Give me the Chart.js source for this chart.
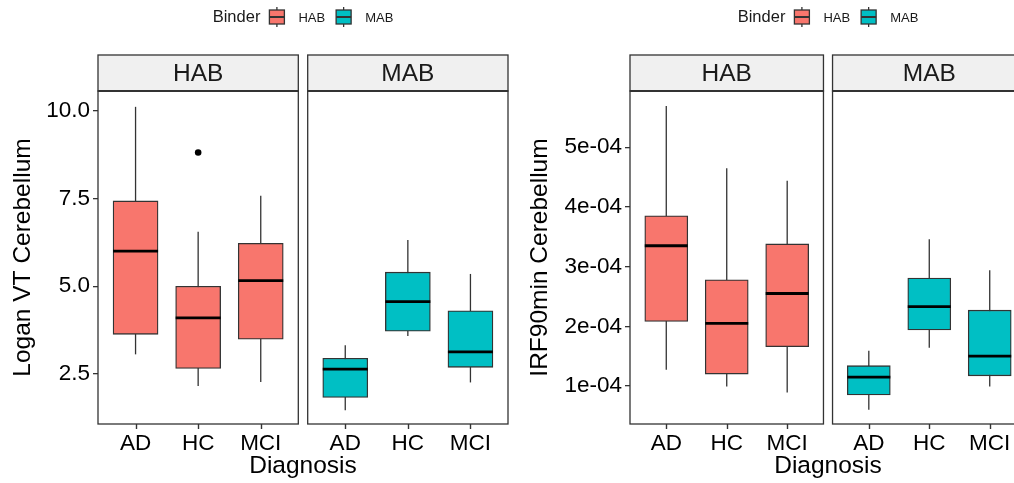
<!DOCTYPE html>
<html>
<head>
<meta charset="utf-8">
<script src="https://cdn.jsdelivr.net/npm/chart.js@4.4.1/dist/chart.umd.min.js"></script>
<style>
  html, body { margin: 0; padding: 0; background: #fff; overflow: hidden; }
  #wrap { position: relative; width: 1014px; height: 483px; overflow: hidden; }
  canvas { position: absolute; top: 0; }
  #logan { left: 0; }
  #irf { left: 512px; }
</style>
</head>
<body>
<div id="wrap">
  <canvas id="logan" width="512" height="483"></canvas>
  <canvas id="irf" width="516" height="483"></canvas>
</div>
<script>
/* Boxplots of cerebellum uptake by diagnosis, faceted by binder status */

const diagnoses = ['AD', 'HC', 'MCI'];
const binders = ['HAB', 'MAB'];
const binderColors = ['#F8766D', '#00BFC4'];

// Logan VT, cerebellum (whisker ends, hinges, median; order AD, HC, MCI)
const loganHabMin    = [3.06, 2.16, 2.27];
const loganHabQ1     = [3.63, 2.66, 3.49];
const loganHabMedian = [6.00, 4.10, 5.16];
const loganHabQ3     = [7.43, 5.00, 6.22];
const loganHabMax    = [10.11, 6.55, 7.58];
const loganMabMin    = [1.47, 3.58, 2.26];
const loganMabQ1     = [1.83, 3.72, 2.69];
const loganMabMedian = [2.64, 4.56, 3.13];
const loganMabQ3     = [2.95, 5.40, 4.30];
const loganMabMax    = [3.32, 6.32, 5.35];
const loganOutlierBinder    = ['HAB'];
const loganOutlierDiagnosis = ['HC'];
const loganOutlierValue     = [8.81];
const loganTicks      = [2.5, 5.0, 7.5, 10.0];
const loganTickLabels = ['2.5', '5.0', '7.5', '10.0'];

// IRF at 90 min, cerebellum
const irfHabMin    = [1.27e-4, 0.99e-4, 0.89e-4];
const irfHabQ1     = [2.08e-4, 1.20e-4, 1.66e-4];
const irfHabMedian = [3.35e-4, 2.05e-4, 2.55e-4];
const irfHabQ3     = [3.85e-4, 2.78e-4, 3.38e-4];
const irfHabMax    = [5.69e-4, 4.65e-4, 4.44e-4];
const irfMabMin    = [0.60e-4, 1.64e-4, 0.99e-4];
const irfMabQ1     = [0.85e-4, 1.94e-4, 1.17e-4];
const irfMabMedian = [1.15e-4, 2.33e-4, 1.50e-4];
const irfMabQ3     = [1.34e-4, 2.81e-4, 2.27e-4];
const irfMabMax    = [1.59e-4, 3.46e-4, 2.94e-4];
const irfOutlierBinder    = [];
const irfOutlierDiagnosis = [];
const irfOutlierValue     = [];
const irfTicks      = [1e-4, 2e-4, 3e-4, 4e-4, 5e-4];
const irfTickLabels = ['1e-04', '2e-04', '3e-04', '4e-04', '5e-04'];

const FONT = "'Liberation Sans', Arial, sans-serif";
Chart.defaults.font.family = FONT;
Chart.defaults.color = '#000';

const PANEL_SPAN = 3.2;   // three categories plus 0.6 padding each side
const PANEL_GAP = 0.15;   // gap between the two facets, x units
const STRIP_H = 36;
const TICK_LEN = 5;
const LINE = '#333333';

const xPos = (b, d) => d + 1 + b * (PANEL_SPAN + PANEL_GAP);

function collectBoxes(stats) {
  const out = [];
  stats.forEach((s, b) => {
    diagnoses.forEach((d, i) => {
      out.push({ x: xPos(b, i), min: s.min[i], q1: s.q1[i], median: s.median[i], q3: s.q3[i], max: s.max[i], color: binderColors[b] });
    });
  });
  return out;
}

function collectOutliers(binderArr, diagArr, valueArr) {
  return valueArr.map((v, i) => ({ x: xPos(binders.indexOf(binderArr[i]), diagnoses.indexOf(diagArr[i])), y: v }));
}

function facetPlugin(boxes, tickPositions) {
  return {
    id: 'facets',
    beforeDatasetsDraw(chart) {
      const { ctx, scales: { x, y } } = chart;
      ctx.save();
      ctx.strokeStyle = LINE;
      ctx.lineWidth = 1.3;
      boxes.forEach(b => {
        const px = x.getPixelForValue(b.x);
        ctx.beginPath();
        ctx.moveTo(px, y.getPixelForValue(b.min));
        ctx.lineTo(px, y.getPixelForValue(b.max));
        ctx.stroke();
      });
      ctx.restore();
    },
    afterDatasetsDraw(chart) {
      const { ctx, chartArea: area, scales: { x, y } } = chart;
      const bars = chart.getDatasetMeta(0).data;
      ctx.save();
      // medians
      ctx.strokeStyle = '#000';
      ctx.lineWidth = 2.8;
      boxes.forEach((b, i) => {
        const px = x.getPixelForValue(b.x);
        const half = bars[i].width / 2;
        const py = y.getPixelForValue(b.median);
        ctx.beginPath();
        ctx.moveTo(px - half, py);
        ctx.lineTo(px + half, py);
        ctx.stroke();
      });
      // panel frames and strips
      binders.forEach((name, b) => {
        const x0 = x.getPixelForValue(0.4 + b * (PANEL_SPAN + PANEL_GAP));
        const x1 = x.getPixelForValue(0.4 + PANEL_SPAN + b * (PANEL_SPAN + PANEL_GAP));
        ctx.strokeStyle = LINE;
        ctx.lineWidth = 1.3;
        ctx.strokeRect(x0, area.top, x1 - x0, area.bottom - area.top);
        ctx.fillStyle = '#F0F0F0';
        ctx.fillRect(x0, area.top - STRIP_H, x1 - x0, STRIP_H);
        ctx.strokeRect(x0, area.top - STRIP_H, x1 - x0, STRIP_H);
        ctx.lineWidth = 2;
        ctx.beginPath();
        ctx.moveTo(x0, area.top);
        ctx.lineTo(x1, area.top);
        ctx.stroke();
        ctx.fillStyle = '#1A1A1A';
        ctx.font = `24.5px ${FONT}`;
        ctx.textAlign = 'center';
        ctx.textBaseline = 'middle';
        ctx.fillText(name, (x0 + x1) / 2, area.top - STRIP_H / 2 + 1);
      });
      ctx.restore();
    },
    afterDraw(chart) {
      const { ctx, chartArea: area, scales: { x } } = chart;
      ctx.save();
      // x tick marks under each facet
      ctx.strokeStyle = LINE;
      ctx.lineWidth = 1.4;
      tickPositions.forEach(v => {
        const px = Math.round(x.getPixelForValue(v)) + 0.5;
        ctx.beginPath();
        ctx.moveTo(px, area.bottom);
        ctx.lineTo(px, area.bottom + TICK_LEN);
        ctx.stroke();
      });

      // legend: "Binder" followed by a boxplot key for each binder
      const cy = 17;
      const KEY_W = 15, GAP_TITLE = 9, GAP_KEY = 14, GAP_ITEM = 11;
      ctx.font = `16.5px ${FONT}`;
      const wTitle = ctx.measureText('Binder').width;
      ctx.font = `13px ${FONT}`;
      const wLabels = binders.map(b => ctx.measureText(b).width);
      const total = wTitle + GAP_TITLE + wLabels.reduce((s, w) => s + KEY_W + GAP_KEY + w, 0) + GAP_ITEM * (binders.length - 1);
      let cx = (area.left + area.right) / 2 - total / 2;
      ctx.textBaseline = 'middle';
      ctx.textAlign = 'left';
      ctx.fillStyle = '#1A1A1A';
      ctx.font = `16.5px ${FONT}`;
      ctx.fillText('Binder', cx, cy);
      cx += wTitle + GAP_TITLE;
      binders.forEach((name, b) => {
        const mid = cx + KEY_W / 2;
        ctx.strokeStyle = LINE;
        ctx.lineWidth = 1.3;
        ctx.beginPath();
        ctx.moveTo(mid, cy - 10);
        ctx.lineTo(mid, cy + 10);
        ctx.stroke();
        ctx.fillStyle = binderColors[b];
        ctx.fillRect(cx, cy - 7, KEY_W, 14);
        ctx.strokeRect(cx, cy - 7, KEY_W, 14);
        ctx.lineWidth = 2;
        ctx.beginPath();
        ctx.moveTo(cx, cy);
        ctx.lineTo(cx + KEY_W, cy);
        ctx.stroke();
        cx += KEY_W + GAP_KEY;
        ctx.fillStyle = '#1A1A1A';
        ctx.font = `13px ${FONT}`;
        ctx.fillText(name, cx, cy + 1);
        cx += wLabels[b] + GAP_ITEM;
      });
      ctx.restore();
    }
  };
}

function boxplotChart(id, spec) {
  const boxes = collectBoxes(spec.stats);
  const xTicks = binders.flatMap((_, b) => diagnoses.map((_, i) => xPos(b, i)));
  const xLabels = binders.flatMap(() => diagnoses);
  return new Chart(document.getElementById(id), {
    type: 'bar',
    data: {
      datasets: [
        {
          type: 'bar',
          data: boxes.map(b => ({ x: b.x, y: [b.q1, b.q3] })),
          backgroundColor: boxes.map(b => b.color),
          borderColor: LINE,
          borderWidth: 1.3,
          borderSkipped: false,
          barThickness: spec.boxWidth,
          order: 1
        },
        {
          type: 'scatter',
          data: spec.outliers,
          pointRadius: 3.3,
          pointBackgroundColor: '#000',
          pointBorderWidth: 0,
          order: 0
        }
      ]
    },
    options: {
      responsive: false,
      animation: false,
      events: [],
      layout: { padding: { top: 91, left: 0, right: spec.padRight, bottom: 0 } },
      plugins: { legend: { display: false }, tooltip: { enabled: false } },
      scales: {
        x: {
          type: 'linear',
          offset: false,
          min: 0.4,
          max: 0.4 + 2 * PANEL_SPAN + PANEL_GAP,
          afterBuildTicks: s => { s.ticks = xTicks.map(v => ({ value: v })); },
          afterFit: s => { s.height = 59; },
          ticks: { autoSkip: false, maxRotation: 0, padding: 1, color: '#000', font: { size: 22.5 }, callback: (v, i) => xLabels[i] },
          grid: { display: true, offset: false, drawOnChartArea: false, drawTicks: true, tickLength: TICK_LEN, tickColor: 'rgba(0,0,0,0)' },
          border: { display: false },
          title: { display: true, text: 'Diagnosis', color: '#000', font: { size: 24.5 }, padding: { top: 0, bottom: 2 } }
        },
        y: {
          min: spec.yMin,
          max: spec.yMax,
          afterBuildTicks: s => { s.ticks = spec.ticks.map(v => ({ value: v })); },
          afterFit: s => { s.width = spec.axisWidth; },
          ticks: { autoSkip: false, padding: 3, color: '#000', font: { size: 22.5 }, callback: (v, i) => spec.tickLabels[i] },
          grid: { display: true, drawOnChartArea: false, drawTicks: true, tickLength: TICK_LEN, tickColor: LINE, lineWidth: 1.3 },
          border: { display: false },
          title: { display: true, text: spec.title, color: '#000', font: { size: 24.5 }, padding: { top: spec.titlePad, bottom: 0 } }
        }
      }
    },
    plugins: [facetPlugin(boxes, xTicks)]
  });
}

boxplotChart('logan', {
  stats: [
    { min: loganHabMin, q1: loganHabQ1, median: loganHabMedian, q3: loganHabQ3, max: loganHabMax },
    { min: loganMabMin, q1: loganMabQ1, median: loganMabMedian, q3: loganMabQ3, max: loganMabMax }
  ],
  outliers: collectOutliers(loganOutlierBinder, loganOutlierDiagnosis, loganOutlierValue),
  yMin: 1.076, yMax: 10.561,
  ticks: loganTicks, tickLabels: loganTickLabels,
  title: 'Logan VT Cerebellum',
  axisWidth: 98, padRight: 1, titlePad: 9, boxWidth: 45
});

boxplotChart('irf', {
  stats: [
    { min: irfHabMin, q1: irfHabQ1, median: irfHabMedian, q3: irfHabQ3, max: irfHabMax },
    { min: irfMabMin, q1: irfMabQ1, median: irfMabMedian, q3: irfMabQ3, max: irfMabMax }
  ],
  outliers: collectOutliers(irfOutlierBinder, irfOutlierDiagnosis, irfOutlierValue),
  yMin: 0.363e-4, yMax: 5.943e-4,
  ticks: irfTicks, tickLabels: irfTickLabels,
  title: 'IRF90min Cerebellum',
  axisWidth: 118, padRight: 2, titlePad: 14, boxWidth: 43
});
</script>
</body>
</html>
